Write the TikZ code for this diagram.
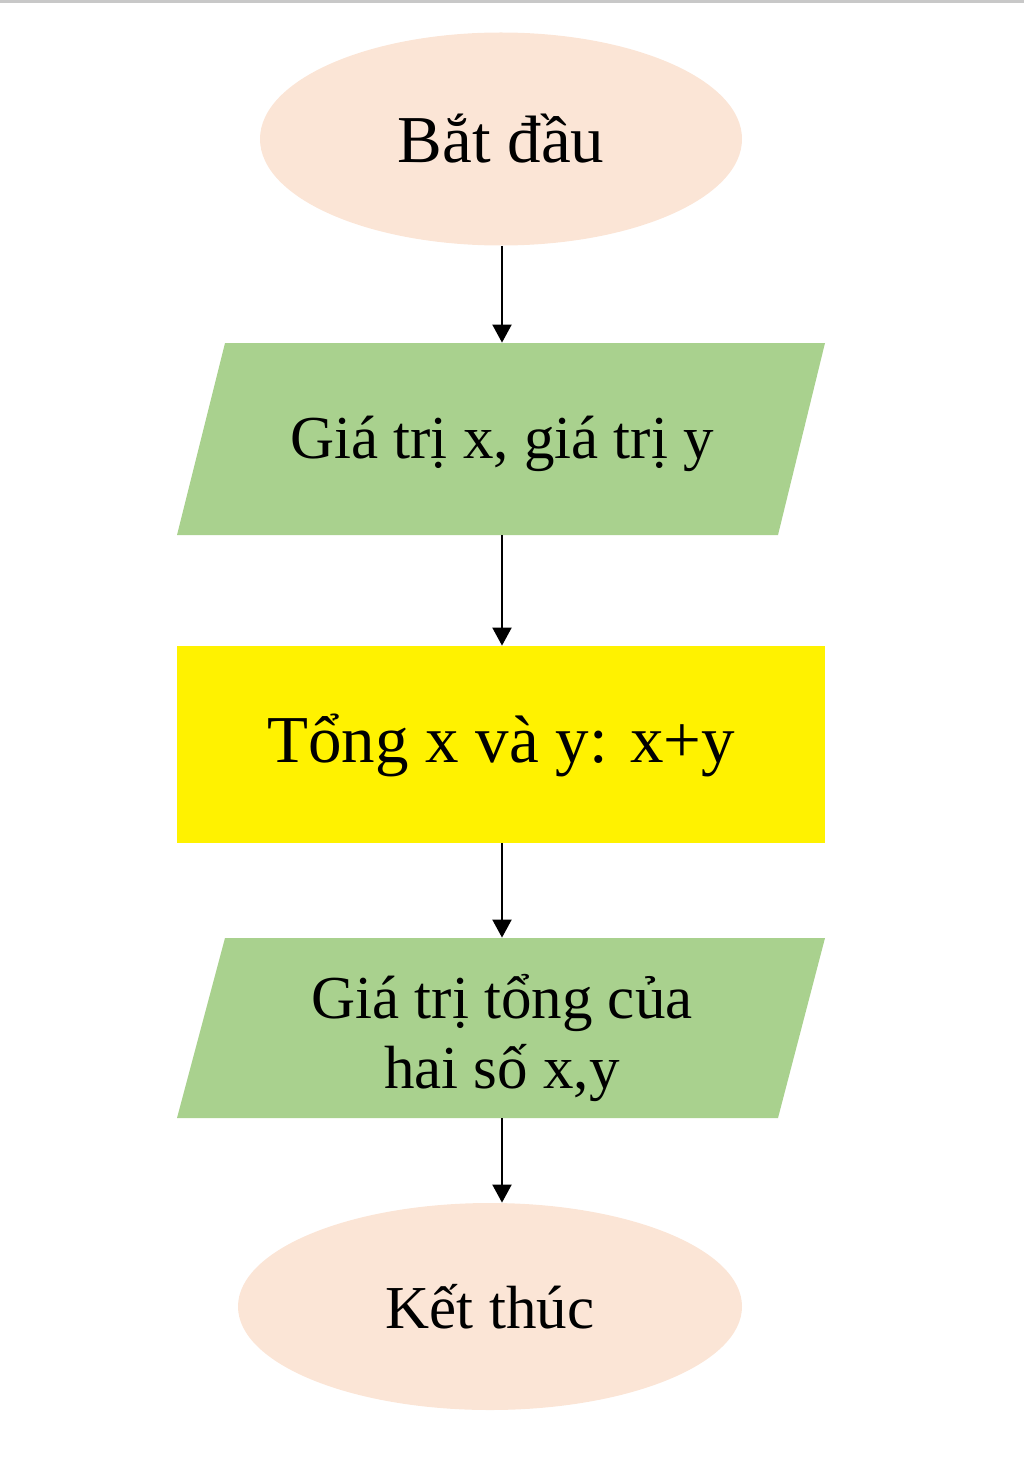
\documentclass[tikz,border=0pt]{standalone}
\usepackage{fontspec}
\setmainfont{Liberation Serif}
\usetikzlibrary{shapes.geometric,arrows.meta}
\definecolor{peach}{HTML}{FBE5D6}
\definecolor{leaf}{HTML}{A9D18E}
\definecolor{topgray}{HTML}{C8C8C8}
\begin{document}
\begin{tikzpicture}[x=0.5pt,y=-0.5pt,
  terminal/.style={ellipse,fill=peach,inner sep=0pt,font=\fontsize{31}{36}\selectfont},
  iobox/.style={rectangle,inner sep=0pt,align=center,font=\fontsize{30.5}{35}\selectfont},
  procbox/.style={rectangle,fill=yellow,inner sep=0pt,font=\fontsize{33.5}{38}\selectfont},
  flow/.style={-{Triangle[length=9pt,width=9.5pt]},line width=1pt,black}]
\useasboundingbox (0,0) rectangle (1024,1466);
\fill[topgray] (0,0) rectangle (1024,3);
\node[terminal,minimum width=241pt,minimum height=106.5pt,font=\fontsize{33.5}{38}\selectfont] (start) at (501,139) {Bắt đầu};
\fill[leaf] (225,343) -- (825,343) -- (778,535) -- (177,535) -- cycle;
\node[iobox,minimum width=324pt,minimum height=96pt,text height=26pt,text depth=7pt] (in1) at (502,439) {Giá trị x, giá trị y};
\node[procbox,minimum width=324pt,minimum height=98.5pt,text height=25pt,text depth=7pt] (proc) at (501,744.5) {Tổng x và y: x+y};
\fill[leaf] (225,938) -- (825,938) -- (778,1118) -- (177,1118) -- cycle;
\node[iobox,minimum width=324pt,minimum height=90pt,text height=67pt,text depth=7pt] (out) at (502,1028) {Giá trị tổng của\\hai số x,y};
\node[terminal,minimum width=252pt,minimum height=103.5pt,font=\fontsize{30.5}{35}\selectfont] (end) at (490,1306.5) {Kết thúc};
\draw[flow] (start.south -| in1.north) -- (in1.north);
\draw[flow] (in1.south) -- (in1.south |- proc.north);
\draw[flow] (proc.south -| out.north) -- (out.north);
\draw[flow] (out.south) -- (out.south |- end.north);
\end{tikzpicture}
\end{document}
